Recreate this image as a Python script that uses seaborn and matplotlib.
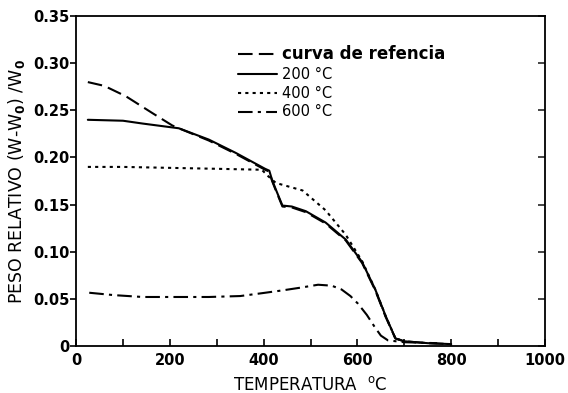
import matplotlib
matplotlib.use("Agg")
import matplotlib.pyplot as plt
import seaborn as sns
import pandas as pd
from matplotlib.ticker import MultipleLocator, FixedLocator

# Thermogravimetric curves: relative weight vs temperature
ref_T = [25, 60, 106, 163, 205, 219, 283, 340, 403, 412, 418, 426, 440, 460, 490, 532, 575, 610, 638, 660, 681, 700, 750, 800]
ref_v = [0.280, 0.276, 0.265, 0.247, 0.234, 0.231, 0.218, 0.204, 0.187, 0.185, 0.175, 0.165, 0.148, 0.147, 0.142, 0.130, 0.112, 0.088, 0.059, 0.031, 0.008, 0.005, 0.003, 0.002]

s200_T = [25, 100, 142, 219, 283, 340, 403, 412, 418, 426, 440, 460, 490, 532, 575, 610, 638, 660, 681, 700, 750, 800]
s200_v = [0.240, 0.239, 0.236, 0.231, 0.219, 0.205, 0.188, 0.186, 0.176, 0.166, 0.149, 0.148, 0.143, 0.131, 0.113, 0.089, 0.060, 0.032, 0.008, 0.005, 0.003, 0.002]

s400_T = [25, 100, 200, 300, 396, 410, 426, 483, 532, 575, 610, 638, 660, 681, 700]
s400_v = [0.190, 0.190, 0.189, 0.188, 0.187, 0.180, 0.173, 0.165, 0.144, 0.118, 0.090, 0.060, 0.032, 0.008, 0.005]

s600_T = [28, 80, 142, 200, 283, 350, 396, 440, 480, 516, 545, 566, 585, 601, 620, 637, 650, 665, 700, 770]
s600_v = [0.0565, 0.054, 0.052, 0.052, 0.052, 0.053, 0.056, 0.059, 0.062, 0.065, 0.064, 0.060, 0.053, 0.045, 0.033, 0.020, 0.011, 0.006, 0.004, 0.003]

labels = ["curva de refencia", "200 °C", "400 °C", "600 °C"]
x_ticks = [0, 200, 400, 600, 800, 1000]
y_ticks = [0, 0.05, 0.10, 0.15, 0.20, 0.25, 0.30, 0.35]
y_tick_labels = ["0", "0.05", "0.10", "0.15", "0.20", "0.25", "0.30", "0.35"]

sns.set_style("white")
plt.rcParams["font.family"] = ["DejaVu Sans"]
plt.rcParams["text.color"] = "black"
plt.rcParams["axes.labelcolor"] = "black"

fig = plt.figure(figsize=(5.68, 3.93), dpi=100)
ax = fig.add_axes([0.134, 0.1196, 0.8255, 0.8394])

series = [(ref_T, ref_v, (0, (7, 3))),
          (s200_T, s200_v, "-"),
          (s400_T, s400_v, (0, (1.5, 2))),
          (s600_T, s600_v, (0, (7, 2.5, 1.5, 2.5)))]

for (T, v, ls), lab in zip(series, labels):
    df = pd.DataFrame({"T": T, "v": v})
    sns.lineplot(data=df, x="T", y="v", ax=ax, color="black", linestyle=ls,
                 linewidth=1.5, label=lab, sort=False, estimator=None)

ax.set_xlim(0, 1000)
ax.set_ylim(0, 0.35)
ax.set_xticks(x_ticks)
ax.set_xticklabels([str(t) for t in x_ticks], fontsize=10.5, fontweight="bold")
ax.xaxis.set_minor_locator(MultipleLocator(100))
ax.set_yticks(y_ticks)
ax.set_yticklabels(y_tick_labels, fontsize=10.5, fontweight="bold")

for s in ax.spines.values():
    s.set_color("black")
    s.set_linewidth(1.3)

ax.tick_params(axis="x", which="both", direction="in", length=5, width=1.2,
               bottom=True, top=False, colors="black", pad=5)
ax.tick_params(axis="y", which="major", direction="out", length=4, width=1.2,
               left=True, right=False, colors="black", pad=1)

# inward ticks on the right edge
ax_r = ax.secondary_yaxis("right")
ax_r.yaxis.set_major_locator(FixedLocator(y_ticks))
ax_r.tick_params(direction="in", length=5, width=1.2, labelright=False)
ax_r.spines["right"].set_visible(False)

ax.set_xlabel("TEMPERATURA  $^{\\mathregular{o}}$C", fontsize=12, labelpad=6, color="black")
ax.set_ylabel("PESO RELATIVO (W-W$_\\mathbf{0}$) /W$_\\mathbf{0}$", fontsize=12.5,
              labelpad=4, color="black")

leg = ax.legend(loc="upper left", bbox_to_anchor=(0.333, 0.93), frameon=False,
                handlelength=2.8, handletextpad=0.4, labelspacing=0.28,
                borderaxespad=0)
for i, t in enumerate(leg.get_texts()):
    t.set_color("black")
    if i == 0:
        t.set_fontsize(12)
        t.set_fontweight("bold")
    else:
        t.set_fontsize(10.5)
for h in leg.get_lines():
    h.set_linewidth(1.5)

fig.savefig("out.png", dpi=100)
